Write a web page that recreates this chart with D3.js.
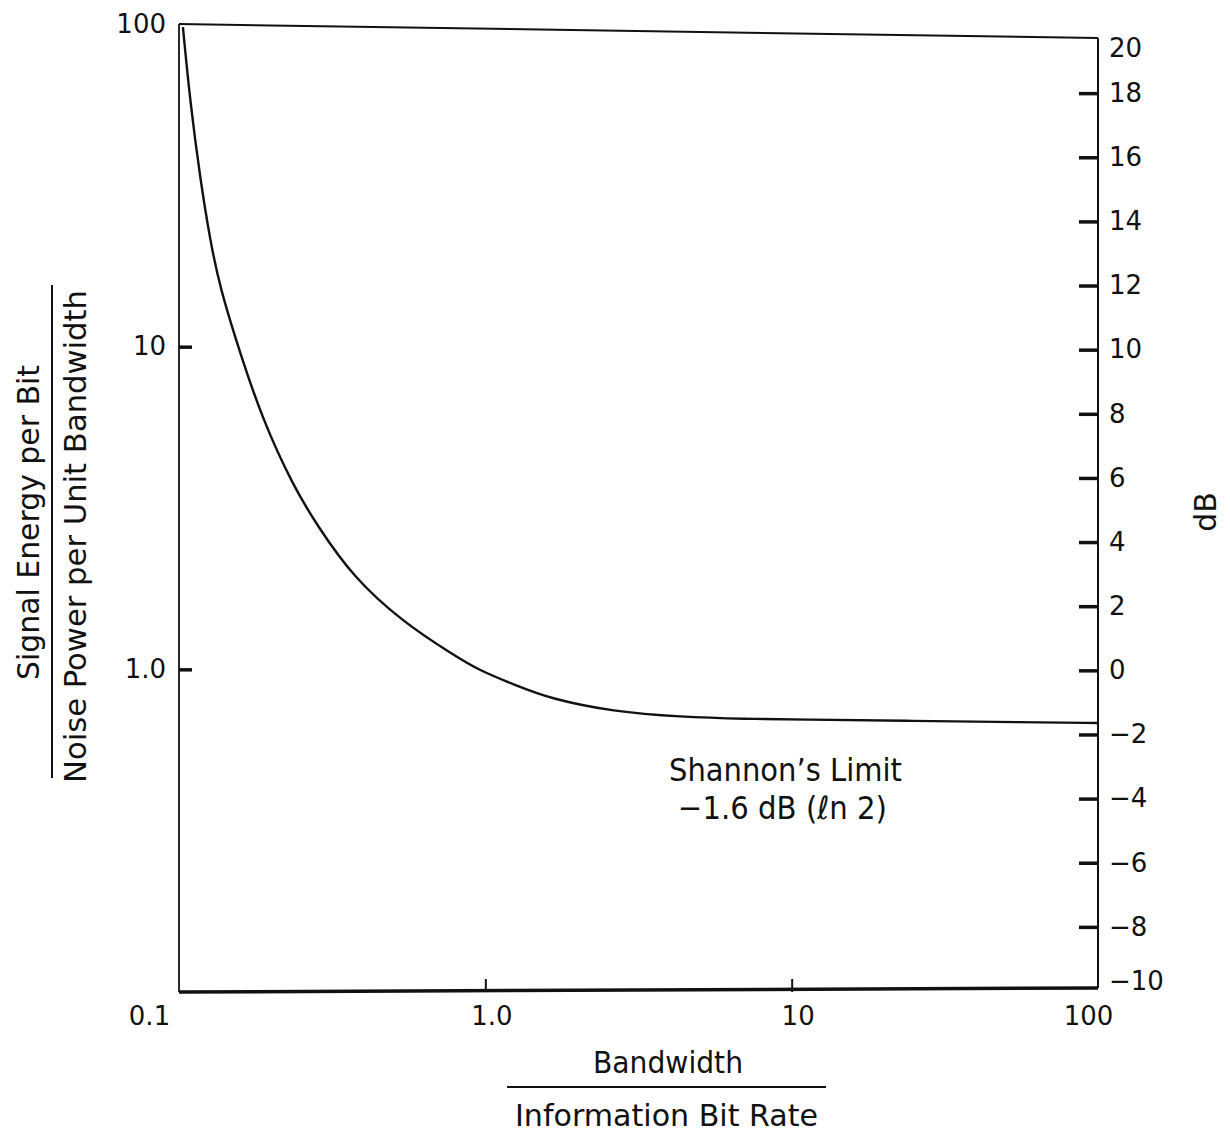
<!DOCTYPE html>
<html>
<head>
<meta charset="utf-8">
<script src="https://cdn.jsdelivr.net/npm/d3@7"></script>
<style>
  body { margin: 0; background: #fff; }
  text { font-family: "DejaVu Sans", sans-serif; fill: #111; }
</style>
</head>
<body>
<div id="chart"></div>
<script>

// bandwidth / information bit rate
let bwRatio = [0.103, 0.1086, 0.1171, 0.1262, 0.1361, 0.158, 0.188, 0.236, 0.282, 0.370,
  0.539, 0.785, 0.96, 1.23, 1.63, 2.61, 4.32, 7.15, 10.6, 24.9, 56.9, 100];
// signal energy per bit / noise power per unit bandwidth
let ebNo = [97.8, 58.1, 33.5, 21.5, 15.2, 9.6, 5.9, 3.7, 2.8, 1.93,
  1.40, 1.11, 0.99, 0.90, 0.81, 0.740, 0.712, 0.702, 0.699, 0.692, 0.686, 0.682];

let xTicks = [0.1, 1, 10, 100];
let xTickLabels = ["0.1", "1.0", "10", "100"];
let yTicks = [100, 10, 1];
let yTickLabels = ["100", "10", "1.0"];
let dbTicks = [-10, -8, -6, -4, -2, 0, 2, 4, 6, 8, 10, 12, 14, 16, 18, 20];

let svgWidth = 1230;
let svgHeight = 1136;

let svg = d3.select("#chart")
  .append("svg")
  .attr("width", svgWidth)
  .attr("height", svgHeight);

// scales (the scanned frame is slightly tilted, so the dB side has its own range)
let xScale = d3.scaleLog().domain([0.1, 100]).range([179, 1098]);
let yScale = d3.scaleLog().domain([0.1, 100]).range([992, 24]);
let dbScale = d3.scaleLinear().domain([-10, 20]).range([991, 29]);

let ink = "#111";

// frame
let frameLine = d3.line();
svg.append("path")
  .attr("d", frameLine([[xScale(0.1), yScale(100)], [xScale(100), yScale(100) + 14]]))
  .attr("stroke", ink).attr("stroke-width", 2).attr("fill", "none");
svg.append("path")
  .attr("d", frameLine([[xScale(0.1), yScale(0.1)], [xScale(100), yScale(0.1) - 4]]))
  .attr("stroke", ink).attr("stroke-width", 3.5).attr("fill", "none");
svg.append("path")
  .attr("d", frameLine([[xScale(0.1), yScale(100)], [xScale(0.1), yScale(0.1)]]))
  .attr("stroke", ink).attr("stroke-width", 1.8).attr("fill", "none");
svg.append("path")
  .attr("d", frameLine([[xScale(100), yScale(100) + 14], [xScale(100), yScale(0.1) - 4]]))
  .attr("stroke", ink).attr("stroke-width", 2).attr("fill", "none");

// left axis (ticks point inward)
let leftAxis = d3.axisLeft(yScale)
  .tickValues(yTicks)
  .tickSizeInner(-13)
  .tickSizeOuter(0)
  .tickPadding(13)
  .tickFormat((d, i) => yTickLabels[i]);
let yAxisG = svg.append("g")
  .attr("transform", `translate(${xScale(0.1)}, 0)`)
  .call(leftAxis);
yAxisG.select(".domain").remove();
yAxisG.selectAll("line").attr("stroke", ink).attr("stroke-width", 3.5)
  .attr("display", d => d === 100 ? "none" : null);
yAxisG.selectAll("text").attr("font-size", 26).attr("fill", ink)
  .attr("font-family", "DejaVu Sans");

// bottom axis
let bottomAxis = d3.axisBottom(xScale)
  .tickValues(xTicks)
  .tickSizeInner(-13)
  .tickSizeOuter(0)
  .tickPadding(15)
  .tickFormat((d, i) => xTickLabels[i]);
let xAxisG = svg.append("g")
  .attr("transform", `translate(0, ${yScale(0.1)})`)
  .call(bottomAxis);
xAxisG.select(".domain").remove();
xAxisG.selectAll("line").attr("stroke", ink).attr("stroke-width", 2)
  .attr("display", d => (d === 0.1 || d === 100) ? "none" : null);
xAxisG.selectAll("text").attr("font-size", 26).attr("fill", ink)
  .attr("font-family", "DejaVu Sans")
  .attr("dx", d => d === 0.1 ? -30 : d === 100 ? -10 : 6);

// right axis in dB
let rightAxis = d3.axisRight(dbScale)
  .tickValues(dbTicks)
  .tickSizeInner(-19)
  .tickSizeOuter(0)
  .tickPadding(11)
  .tickFormat(d => d < 0 ? "\u2212" + (-d) : d);
let dbAxisG = svg.append("g")
  .attr("transform", `translate(${xScale(100)}, 0)`)
  .call(rightAxis);
dbAxisG.select(".domain").remove();
dbAxisG.selectAll("line").attr("stroke", ink).attr("stroke-width", 3.5)
  .attr("display", d => (d === -10 || d === 20) ? "none" : null);
dbAxisG.selectAll("text").attr("font-size", 26).attr("fill", ink)
  .attr("font-family", "DejaVu Sans")
  .attr("dy", d => d === 20 ? "1.05em" : d === -10 ? "-0.05em" : "0.32em");

// the capacity curve, smoothed through the read points
let points = bwRatio.map((b, i) => [b, ebNo[i]]);
let curveLine = d3.line()
  .x(d => xScale(d[0]))
  .y(d => yScale(d[1]))
  .curve(d3.curveBasis);
svg.append("path")
  .datum(points)
  .attr("d", curveLine)
  .attr("fill", "none")
  .attr("stroke", ink)
  .attr("stroke-width", 2.4);

// annotation
svg.append("text")
  .attr("x", 669).attr("y", 770)
  .attr("dominant-baseline", "central")
  .attr("font-size", 32)
  .attr("textLength", 233).attr("lengthAdjust", "spacingAndGlyphs")
  .text("Shannon\u2019s Limit");
svg.append("text")
  .attr("x", 678).attr("y", 808)
  .attr("dominant-baseline", "central")
  .attr("font-size", 32)
  .attr("textLength", 209).attr("lengthAdjust", "spacingAndGlyphs")
  .text("\u22121.6 dB (\u2113n 2)");

// x axis title as a fraction
svg.append("text")
  .attr("x", 593).attr("y", 1062)
  .attr("dominant-baseline", "central")
  .attr("font-size", 30)
  .attr("textLength", 150).attr("lengthAdjust", "spacingAndGlyphs")
  .text("Bandwidth");
svg.append("line")
  .attr("x1", 507).attr("x2", 826).attr("y1", 1087).attr("y2", 1087)
  .attr("stroke", ink).attr("stroke-width", 2);
svg.append("text")
  .attr("x", 515).attr("y", 1115)
  .attr("dominant-baseline", "central")
  .attr("font-size", 30)
  .attr("textLength", 303).attr("lengthAdjust", "spacingAndGlyphs")
  .text("Information Bit Rate");

// y axis title as a fraction
let yTitle = svg.append("g")
  .attr("transform", "rotate(-90)");
yTitle.append("text")
  .attr("x", -680).attr("y", 28)
  .attr("dominant-baseline", "central")
  .attr("font-size", 30)
  .attr("textLength", 315).attr("lengthAdjust", "spacingAndGlyphs")
  .text("Signal Energy per Bit");
yTitle.append("line")
  .attr("x1", -778).attr("x2", -285).attr("y1", 52).attr("y2", 52)
  .attr("stroke", ink).attr("stroke-width", 2);
yTitle.append("text")
  .attr("x", -783).attr("y", 75)
  .attr("dominant-baseline", "central")
  .attr("font-size", 30)
  .attr("textLength", 493).attr("lengthAdjust", "spacingAndGlyphs")
  .text("Noise Power per Unit Bandwidth");

// right axis title
svg.append("text")
  .attr("transform", "translate(1205, 512) rotate(-90)")
  .attr("text-anchor", "middle")
  .attr("dominant-baseline", "central")
  .attr("font-size", 30)
  .text("dB");

</script>
</body>
</html>
